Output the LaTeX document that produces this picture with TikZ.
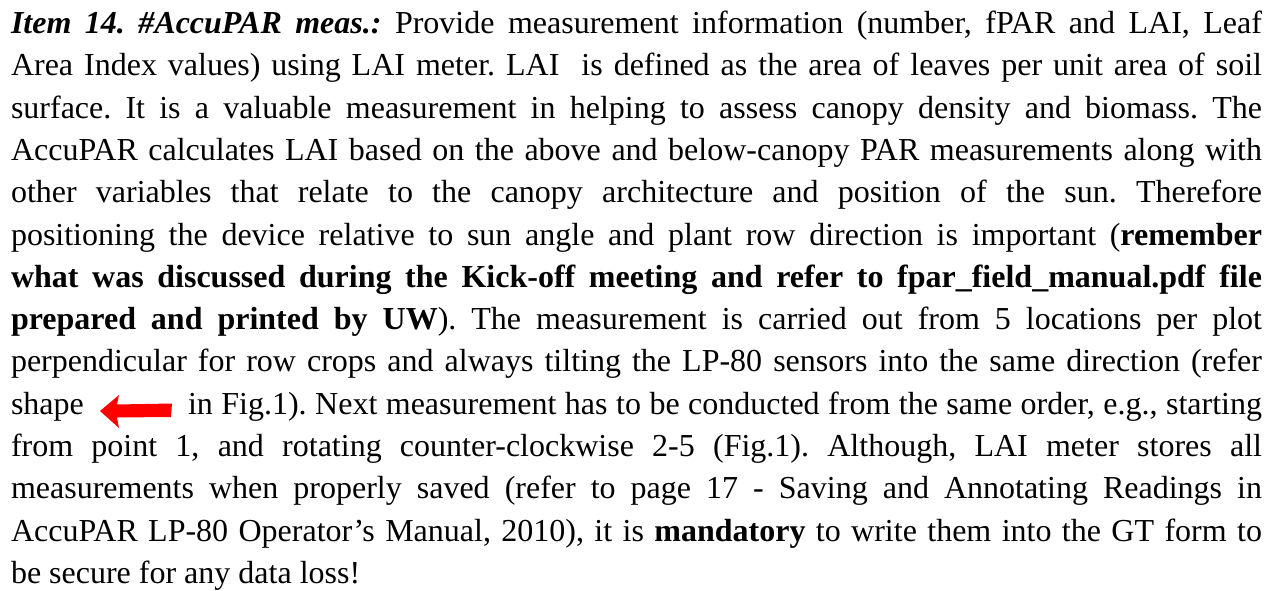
\documentclass[tikz,border=0pt]{standalone}
\usepackage{fontspec}
\setmainfont{Liberation Serif}
\frenchspacing
\definecolor{arrowred}{RGB}{255,0,0}
\tikzset{
  txt/.style={anchor=base west, inner sep=0pt, outer sep=0pt, font=\fontsize{32}{42}\selectfont\frenchspacing},
}
\newcommand{\jline}[1]{\makebox[1251pt][s]{#1}}
\begin{document}
\begin{tikzpicture}[x=1pt,y=-1pt]
\useasboundingbox (0,0) rectangle (1277,591);
\def\lx{11}
\node[txt] (l1) at (\lx,33.5) {\jline{\textbf{\textit{Item 14. \#AccuPAR meas.:}} Provide measurement information (number, fPAR and LAI, Leaf}};
\node[txt] (l2) at (\lx,75.8) {\jline{Area Index values) using LAI meter. LAI\ \ is defined as the area of leaves per unit area of soil}};
\node[txt] (l3) at (\lx,118.1) {\jline{surface. It is a valuable measurement in helping to assess canopy density and biomass. The}};
\node[txt] (l4) at (\lx,160.4) {\jline{AccuPAR calculates LAI based on the above and below-canopy PAR measurements along with}};
\node[txt] (l5) at (\lx,202.7) {\jline{other variables that relate to the canopy architecture and position of the sun. Therefore}};
\node[txt] (l6) at (\lx,245.0) {\jline{positioning the device relative to sun angle and plant row direction is important (\textbf{remember}}};
\node[txt] (l7) at (\lx,287.3) {\jline{\textbf{what was discussed during the Kick-off meeting and refer to fpar\_field\_manual.pdf file}}};
\node[txt] (l8) at (\lx,329.6) {\jline{\textbf{prepared and printed by UW}). The measurement is carried out from 5 locations per plot}};
\node[txt] (l9) at (\lx,371.9) {\jline{perpendicular for row crops and always tilting the LP-80 sensors into the same direction (refer}};
\node[txt] (l10a) at (\lx,414.2) {shape};
\node[txt] (l10b) at (188,414.2) {\makebox[1074pt][s]{in Fig.1). Next measurement has to be conducted from the same order, e.g., starting}};
\node[txt] (l11) at (\lx,456.5) {\jline{from point 1, and rotating counter-clockwise 2-5 (Fig.1). Although, LAI meter stores all}};
\node[txt] (l12) at (\lx,498.8) {\jline{measurements when properly saved (refer to page 17 - Saving and Annotating Readings in}};
\node[txt] (l13) at (\lx,541.1) {\jline{AccuPAR LP-80 Operator’s Manual, 2010), it is \textbf{mandatory} to write them into the GT form to}};
\node[txt] (l14) at (\lx,583.4) {be secure for any data loss!};
% red arrow
\fill[arrowred] (100,411) -- (119,395) -- (117,404.5) -- (172,403.5) -- (171,417) -- (117,417.5) -- (119,428) -- cycle;
\end{tikzpicture}
\end{document}
